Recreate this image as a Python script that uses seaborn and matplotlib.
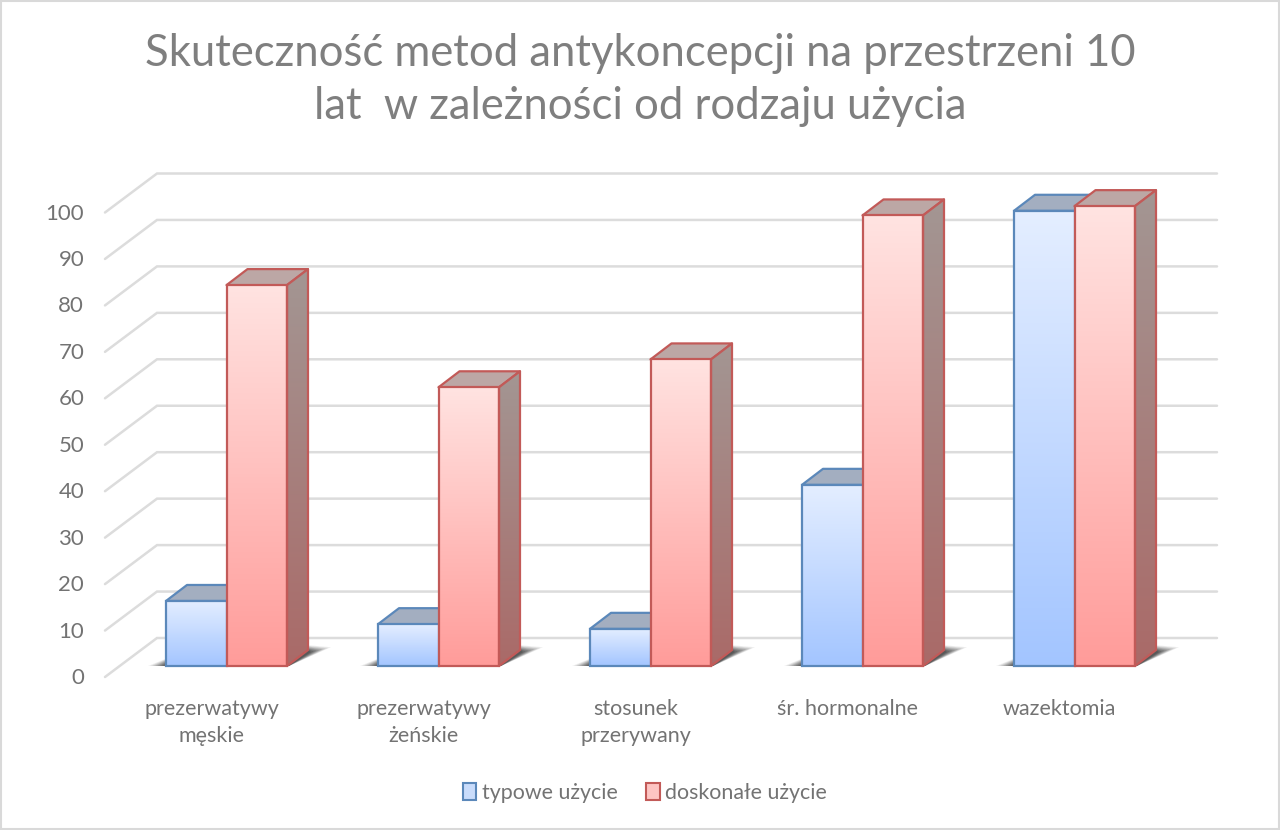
import numpy as np
import pandas as pd
import matplotlib
matplotlib.use("Agg")
import matplotlib.pyplot as plt
from matplotlib.colors import LinearSegmentedColormap
from matplotlib.patches import Polygon, Patch, Rectangle
from matplotlib.transforms import ScaledTranslation
import seaborn as sns

title = "Skuteczność metod antykoncepcji na przestrzeni 10\nlat  w zależności od rodzaju użycia"
categories = ["prezerwatywy\nmęskie", "prezerwatywy\nżeńskie", "stosunek\nprzerywany",
              "śr. hormonalne", "wazektomia"]
series_names = ["typowe użycie", "doskonałe użycie"]
typical = [14, 9, 8, 39, 98]
perfect = [82, 60, 66, 97, 99]
y_ticks = list(range(0, 101, 10))

W, H = 1280, 830
PX_PER_UNIT_Y = 4.645
PX_PER_CAT = 212.0
FLOOR_PX = 666.0
FIRST_CAT_PX = 226.5
LEFT_PX, RIGHT_PX, TOP_PX, BOTTOM_PX = 105.0, 1240.0, 160.0, 677.0

sns.set_theme(style="white")
plt.rcParams["font.family"] = ["Lato", "DejaVu Sans"]

fig = plt.figure(figsize=(W / 100, H / 100), dpi=100, facecolor="white")
ax = fig.add_axes([LEFT_PX / W, 1 - BOTTOM_PX / H, (RIGHT_PX - LEFT_PX) / W, (BOTTOM_PX - TOP_PX) / H])


def x_units(px):
    return px / PX_PER_CAT


def y_units(px):
    return px / PX_PER_UNIT_Y


df = pd.DataFrame({
    "metoda": categories * 2,
    "rodzaj": [series_names[0]] * 5 + [series_names[1]] * 5,
    "wartosc": typical + perfect,
})
sns.barplot(data=df, x="metoda", y="wartosc", hue="rodzaj", hue_order=series_names,
            width=121 / PX_PER_CAT, gap=0, legend=False, ax=ax, errorbar=None, saturation=1)

x_min = (LEFT_PX - FIRST_CAT_PX) / PX_PER_CAT
x_max = (RIGHT_PX - FIRST_CAT_PX) / PX_PER_CAT
y_min = (FLOOR_PX - BOTTOM_PX) / PX_PER_UNIT_Y
y_max = (FLOOR_PX - TOP_PX) / PX_PER_UNIT_Y

# Gridlines on the back wall and the receding left wall
wall_dx, wall_dy = x_units(52), y_units(39)
back_x0 = x_min + wall_dx
back_x1 = x_units(1217 - FIRST_CAT_PX)
grid_color = "#dcdcdc"
for v in y_ticks:
    yf = v + y_min
    ax.plot([x_min, back_x0, back_x1], [yf, yf + wall_dy, yf + wall_dy],
            color=grid_color, lw=1.8, zorder=1, solid_joinstyle="miter", clip_on=False)

# Bar styling per series: gradient, outline, top face, side face
styles = [
    {"top": "#e4eeff", "bottom": "#a3c5ff", "edge": "#5b88ba", "lid": ("#a3aec0", "#a6b2c4"),
     "side": ("#8f9db4", "#7b93b8")},
    {"top": "#ffe3e1", "bottom": "#ff9c9a", "edge": "#c25a58", "lid": ("#bca7a5", "#c2aaa8"),
     "side": ("#a39693", "#aa6a68")},
]
depth_x, depth_y = x_units(21), y_units(16)
patches = list(ax.patches)
n = len(categories)
edge_lw = 1.6

for s, style in enumerate(styles):
    cmap = LinearSegmentedColormap.from_list("fade", [style["top"], style["bottom"]])
    side_cmap = LinearSegmentedColormap.from_list("fade_side", list(style["side"]))
    base_z = 3 + 2 * s
    for i in range(n):
        bar = patches[s * n + i]
        x0, w, h = bar.get_x(), bar.get_width(), bar.get_height()
        x1 = x0 + w
        bar.set_facecolor("none")
        bar.set_edgecolor(style["edge"])
        bar.set_linewidth(edge_lw)
        bar.set_zorder(base_z + 0.5)
        bar.set_clip_on(False)
        ramp = np.linspace(0, 1, 128).reshape(-1, 1)
        ax.imshow(ramp, cmap=cmap, extent=(x0, x1, 0, h), origin="upper", aspect="auto",
                  zorder=base_z + 0.2, interpolation="bilinear", clip_on=False)

        lid = Polygon([(x0, h), (x0 + depth_x, h + depth_y), (x1 + depth_x, h + depth_y), (x1, h)],
                      closed=True, facecolor=style["lid"][0], edgecolor=style["edge"], lw=edge_lw,
                      zorder=base_z, joinstyle="round", clip_on=False)
        ax.add_patch(lid)

        if s == 1:
            side = Polygon([(x1, 0), (x1 + depth_x, depth_y), (x1 + depth_x, h + depth_y), (x1, h)],
                           closed=True, facecolor="none", edgecolor=style["edge"], lw=edge_lw,
                           zorder=base_z + 0.4, joinstyle="round", clip_on=False)
            ax.add_patch(side)
            img = ax.imshow(ramp, cmap=side_cmap, extent=(x1, x1 + depth_x, 0, h + depth_y),
                            origin="upper", aspect="auto", zorder=base_z + 0.3,
                            interpolation="bilinear", clip_on=True)
            img.set_clip_path(Polygon(side.get_xy(), closed=True, transform=ax.transData))

            # Soft contact shadow falling on the floor behind each pair of bars
            left = patches[i].get_x()
            for grow, alpha in zip(np.linspace(1, 0, 8),
                                   [0.08, 0.10, 0.13, 0.16, 0.19, 0.22, 0.25, 0.28]):
                shade = Polygon([
                    (left - x_units(2 + 16 * grow), 0),
                    (x1 + x_units(2), 0),
                    (x1 + depth_x + x_units(3 + 20 * grow), depth_y * (1 + 0.3 * grow) - y_units(2)),
                    (x1 + depth_x, depth_y * (1 + 0.3 * grow)),
                    (left + depth_x, depth_y),
                ], closed=True, facecolor="#303030", edgecolor="none", alpha=alpha, zorder=2,
                    clip_on=False)
                ax.add_patch(shade)

ax.set_xlim(x_min, x_max)
ax.set_ylim(y_min, y_max)
sns.despine(ax=ax, left=True, bottom=True, top=True, right=True)
ax.set_xlabel("")
ax.set_ylabel("")
ax.grid(False)
ax.patch.set_alpha(0)

# Tick labels sit on the front edge of the floor, shifted from their tick positions
text_color = "#737373"
ax.set_yticks(y_ticks)
ax.set_xticks(range(n))
ax.set_xticklabels(categories)
ax.tick_params(axis="both", length=0)
ax.tick_params(axis="y", pad=15)
y_shift = ScaledTranslation(0, -10 / 100, fig.dpi_scale_trans)
for lab in ax.get_yticklabels():
    lab.set_transform(lab.get_transform() + y_shift)
    lab.set_fontsize(16)
    lab.set_color(text_color)
    lab.set_ha("right")
x_shift = ScaledTranslation(-15 / 100, -17 / 100, fig.dpi_scale_trans)
for lab in ax.get_xticklabels():
    lab.set_transform(lab.get_transform() + x_shift)
    lab.set_fontsize(15.5)
    lab.set_color(text_color)
    lab.set_linespacing(1.45)
    lab.set_va("top")

fig.text(640 / W, 1 - 80 / H, title, ha="center", va="center", fontsize=31.4, color="#7f7f7f",
         linespacing=1.38)

handles = [Patch(facecolor="#c9dcfb", edgecolor=styles[0]["edge"], lw=1.5, label=series_names[0]),
           Patch(facecolor="#fdc5c3", edgecolor=styles[1]["edge"], lw=1.5, label=series_names[1])]
leg = fig.legend(handles=handles, loc="center", bbox_to_anchor=(645 / W, 1 - 793 / H), ncol=2,
                 frameon=False, fontsize=15.4, handlelength=0.62, handleheight=0.8,
                 handletextpad=0.25, columnspacing=1.35, labelcolor=text_color)

# Thin frame round the whole chart area
fig.add_artist(Rectangle((0.0005, 0.001), 0.999, 0.998, transform=fig.transFigure,
                         facecolor="none", edgecolor="#d9d9d9", lw=1.5))

fig.savefig("out.png", dpi=100)
